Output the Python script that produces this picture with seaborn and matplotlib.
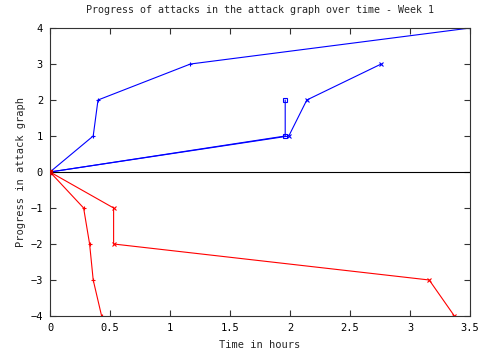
import numpy as np
import pandas as pd
import seaborn as sns
import matplotlib
matplotlib.use('Agg')
import matplotlib.pyplot as plt

# attack progress series (time in hours, progress level)
a_time = [0.0, 0.36, 0.40, 1.17, 3.50]
a_prog = [0, 1, 2, 3, 4]
b_time = [0.0, 1.96, 1.96]
b_prog = [0, 1, 2]
c_time = [0.0, 1.99, 2.14, 2.76]
c_prog = [0, 1, 2, 3]
d_time = [0.0, 0.28, 0.33, 0.36, 0.43]
d_prog = [0, -1, -2, -3, -4]
e_time = [0.0, 0.53, 0.53, 3.16, 3.37]
e_prog = [0, -1, -2, -3, -4]

series = {'a': (a_time, a_prog), 'b': (b_time, b_prog), 'c': (c_time, c_prog),
          'd': (d_time, d_prog), 'e': (e_time, e_prog)}
colors = {'a': '#0000ff', 'b': '#0000ff', 'c': '#0000ff', 'd': '#ff0000', 'e': '#ff0000'}
markers = {'a': '+', 'b': 's', 'c': 'x', 'd': '+', 'e': 'x'}

frames = []
for name, (t, p) in series.items():
    frames.append(pd.DataFrame({'time': t, 'progress': p, 'attack': name}))
df = pd.concat(frames, ignore_index=True)

sns.set_style('ticks')
plt.rcParams['font.family'] = ['DejaVu Sans Mono']

fig = plt.figure(figsize=(4.79, 3.56), dpi=100)
ax = fig.add_axes([0.1044, 0.1124, 0.8768, 0.8089])

ax.axhline(0, color='black', lw=0.8, zorder=1)

for name in series:
    sub = df[df['attack'] == name]
    sns.lineplot(data=sub, x='time', y='progress', ax=ax, sort=False, estimator=None,
                 color=colors[name], lw=0.8, marker=markers[name], markersize=3,
                 markerfacecolor='none', markeredgecolor=colors[name], markeredgewidth=0.8)

# red dot at the common origin
ax.plot([0], [0], 's', ms=2.5, color='#cc0000', zorder=5)

ax.set_xlim(0, 3.5)
ax.set_ylim(-4, 4)
ax.set_xticks(np.arange(0, 3.51, 0.5))
ax.set_xticklabels(['0', '0.5', '1', '1.5', '2', '2.5', '3', '3.5'])
ax.set_yticks(range(-4, 5))
ax.tick_params(direction='in', top=True, right=True, labelsize=7.5, length=4,
               width=0.8, colors='#333333', labelcolor='black', pad=5)
for s in ax.spines.values():
    s.set_linewidth(0.8)
    s.set_color('#333333')

ax.set_title('Progress of attacks in the attack graph over time - Week 1', fontsize=7.2, pad=11)
ax.set_xlabel('Time in hours', fontsize=7.5, labelpad=5)
ax.set_ylabel('Progress in attack graph', fontsize=7.5, labelpad=3)

fig.savefig('out.png', dpi=100)
